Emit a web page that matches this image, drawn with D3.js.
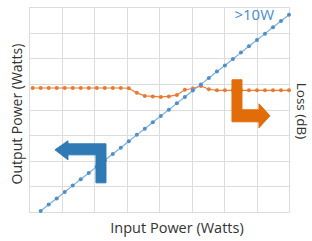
<!DOCTYPE html>
<html>
<head>
  <meta charset="utf-8">
  <style>
    body { margin: 0; padding: 0; background: white; font-family: "Open Sans", sans-serif; }
    .grid line { stroke: #dcdcdc; stroke-width: 1; }
    .label { fill: #333333; font-size: 14.5px; }
  </style>
</head>
<body>
  <div id="chart"></div>
  <script src="https://d3js.org/d3.v7.min.js"></script>
  <script>

  // ---- data ----
  var inputPower = [1, 2, 3, 4, 5, 6, 7, 8, 9, 10, 11, 12, 13, 14, 15, 16,
                    17, 18, 19, 20, 21, 22, 23, 24, 25, 26, 27, 28, 29, 30, 31, 32]
  var outputPower = [0.04, 0.29, 0.53, 0.78, 1.03, 1.28, 1.52, 1.77, 2.02, 2.26, 2.51,
                     2.76, 3.01, 3.25, 3.50, 3.75, 3.99, 4.24, 4.49, 4.74, 4.98, 5.23,
                     5.48, 5.72, 5.97, 6.22, 6.47, 6.71, 6.96, 7.21, 7.45, 7.70]

  var lossInput = [0, 1, 2, 3, 4, 5, 6, 7, 8, 9, 10, 11, 12, 13, 14, 15, 16,
                   17, 18, 19, 20, 21, 22, 23, 24, 25, 26, 27, 28, 29, 30, 31, 32]
  var loss = [4.84, 4.84, 4.84, 4.84, 4.84, 4.84, 4.84, 4.84, 4.84, 4.84, 4.84, 4.84, 4.83,
              4.65, 4.53, 4.51, 4.49, 4.51, 4.57, 4.77, 4.82, 4.92, 4.79,
              4.75, 4.75, 4.75, 4.75, 4.75, 4.75, 4.75, 4.75, 4.75, 4.75]

  var gridX = [0, 1, 2, 3, 4, 5, 6, 7, 8]
  var gridY = [0, 1, 2, 3, 4, 5, 6, 7, 8]

  var width = 312, height = 241
  var margin = { top: 7, right: 23, bottom: 29, left: 29 }

  var svg = d3.select("#chart").append("svg")
      .attr("width", width)
      .attr("height", height)

  var x = d3.scaleLinear().domain([-0.46, 32]).range([margin.left, width - margin.right])
  var y = d3.scaleLinear().domain([0, 8]).range([height - margin.bottom, margin.top])
  var yLoss = d3.scaleLinear().domain([0, 8]).range([height - margin.bottom, margin.top])

  // grid cells, evenly split like the original
  var gx = d3.scaleLinear().domain([0, 8]).range([margin.left, width - margin.right])

  var grid = svg.append("g").attr("class", "grid")
  grid.selectAll(".v").data(gridX).enter().append("line")
      .attr("x1", function (d) { return Math.round(gx(d)) + 0.5 })
      .attr("x2", function (d) { return Math.round(gx(d)) + 0.5 })
      .attr("y1", margin.top)
      .attr("y2", height - margin.bottom)
  grid.selectAll(".h").data(gridY).enter().append("line")
      .attr("y1", function (d) { return Math.round(y(d)) + 0.5 })
      .attr("y2", function (d) { return Math.round(y(d)) + 0.5 })
      .attr("x1", margin.left)
      .attr("x2", width - margin.right)

  // ---- loss series (orange) ----
  var lossPts = lossInput.map(function (d, i) { return [d, loss[i]] })
  svg.append("path")
      .datum(lossPts)
      .attr("fill", "none")
      .attr("stroke", "#ed7d31")
      .attr("stroke-width", 1.2)
      .attr("d", d3.line().x(function (d) { return x(d[0]) }).y(function (d) { return yLoss(d[1]) }))
  svg.append("g").selectAll("circle").data(lossPts).enter().append("circle")
      .attr("cx", function (d) { return x(d[0]) })
      .attr("cy", function (d) { return yLoss(d[1]) })
      .attr("r", 2)
      .attr("fill", "#ea7a2f")

  // ---- output series (blue) ----
  var outPts = inputPower.map(function (d, i) { return [d, outputPower[i]] })
  svg.append("path")
      .datum(outPts)
      .attr("fill", "none")
      .attr("stroke", "#7cb0e0")
      .attr("stroke-width", 1.2)
      .attr("d", d3.line().x(function (d) { return x(d[0]) }).y(function (d) { return y(d[1]) }))
  svg.append("g").selectAll("circle").data(outPts).enter().append("circle")
      .attr("cx", function (d) { return x(d[0]) })
      .attr("cy", function (d) { return y(d[1]) })
      .attr("r", 2)
      .attr("fill", "#4f8fcd")

  // ---- arrows (shape in px, anchored in data units) ----
  var blueArrow = [[-51, 6], [-38, -3], [-38, 0], [0, 0], [0, 39], [-10, 39], [-10, 11], [-38, 11], [-38, 16]]
  var orangeArrow = [[0, -42], [10, -42], [10, -12], [27, -12], [27, -18], [38, -6], [27, 6], [27, 0], [0, 0]]

  function drawArrow(shape, ax, ay, color) {
    var px = x(ax), py = y(ay)
    svg.append("polygon")
        .attr("points", shape.map(function (p) { return (px + p[0]) + "," + (py + p[1]) }).join(" "))
        .attr("fill", color)
        .attr("stroke", color)
        .attr("stroke-width", 1)
        .attr("stroke-linejoin", "round")
  }
  drawArrow(blueArrow, 9.15, 2.66, "#2f7ab5")
  drawArrow(orangeArrow, 24.88, 3.52, "#e36c0a")

  // ---- texts ----
  svg.append("text")
      .attr("x", 274).attr("y", 20)
      .attr("text-anchor", "end")
      .attr("fill", "#4a8ccc")
      .style("font-size", "15px")
      .text(">10W")

  svg.append("text")
      .attr("class", "label")
      .attr("x", 177).attr("y", 233)
      .attr("text-anchor", "middle")
      .text("Input Power (Watts)")

  svg.append("text")
      .attr("class", "label")
      .attr("transform", "translate(22,114) rotate(-90)")
      .attr("text-anchor", "middle")
      .style("font-size", "14px")
      .text("Output Power (Watts)")

  svg.append("text")
      .attr("class", "label")
      .attr("transform", "translate(297,111) rotate(90)")
      .attr("text-anchor", "middle")
      .style("font-size", "13.5px")
      .text("Loss (dB)")

  </script>
</body>
</html>
